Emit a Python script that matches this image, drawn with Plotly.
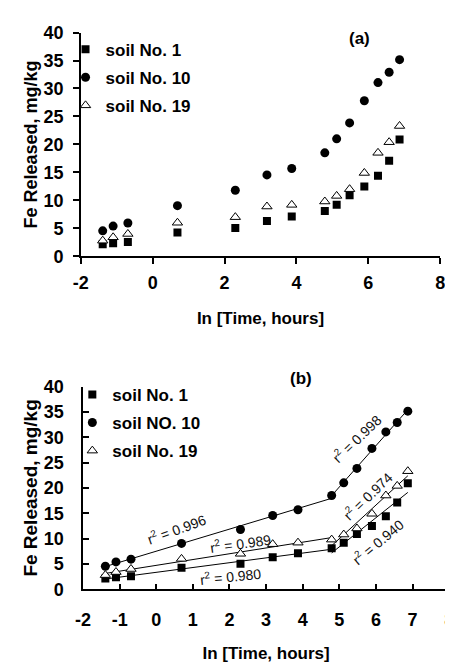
import numpy as np
import plotly.graph_objects as go

# ---------------- data ----------------
ln_time = [-1.39, -1.10, -0.69, 0.69, 2.30, 3.18, 3.87, 4.79, 5.12, 5.48, 5.89, 6.27, 6.58, 6.87]
soil1 = [2.15, 2.35, 2.55, 4.25, 5.05, 6.3, 7.1, 8.1, 9.2, 10.9, 12.5, 14.4, 17.1, 20.9]
soil10 = [4.55, 5.4, 5.95, 9.05, 11.8, 14.55, 15.7, 18.5, 21.0, 23.85, 27.8, 31.05, 32.9, 35.15]
soil19 = [2.8, 3.4, 4.0, 6.0, 7.0, 8.9, 9.2, 9.8, 10.8, 12.0, 14.9, 18.5, 20.4, 23.3]

names_a = ["soil No. 1", "soil No. 10", "soil No. 19"]
names_b = ["soil No. 1", "soil NO. 10", "soil No. 19"]

xticks_a = [-2, 0, 2, 4, 6, 8]
xticks_b = [-2, -1, 0, 1, 2, 3, 4, 5, 6, 7, 8]
yticks = [0, 5, 10, 15, 20, 25, 30, 35, 40]

break_index = 7  # both segments share the point at ln t = 4.79
# r2 labels: (x, y, angle, value) in panel (b) data coords
r2_pos = [
    (2.02, 2.55, -6, "0.980"),
    (0.54, 11.8, -20, "0.996"),
    (2.29, 9.05, -8, "0.989"),
    (6.03, 9.4, -40, "0.940"),
    (5.48, 29.8, -44, "0.998"),
    (5.76, 18.4, -44, "0.974"),
]

FONT = "Liberation Sans, Arial, sans-serif"
series = [soil1, soil10, soil19]
symbols = [
    dict(symbol="square", size=8, color="black", line=dict(color="black", width=0)),
    dict(symbol="circle", size=9, color="black", line=dict(color="black", width=0)),
    dict(symbol="triangle-up", size=9, color="white", line=dict(color="black", width=1)),
]

fig = go.Figure()

# ---------- panel (a) ----------
for i, ys in enumerate(series):
    fig.add_trace(go.Scatter(
        x=ln_time, y=ys, mode="markers", name=names_a[i], marker=symbols[i],
        xaxis="x", yaxis="y", legend="legend", legendgroup=f"a{i}",
    ))

# ---------- panel (b): regression segments ----------
x_arr = np.array(ln_time)
for ys in series:
    y_arr = np.array(ys)
    for seg in (slice(0, break_index + 1), slice(break_index, len(ln_time))):
        xs, yv = x_arr[seg], y_arr[seg]
        k, b = np.polyfit(xs, yv, 1)
        xe = np.array([xs[0], xs[-1]])
        fig.add_trace(go.Scatter(
            x=xe, y=k * xe + b, mode="lines", line=dict(color="black", width=1),
            xaxis="x2", yaxis="y2", showlegend=False, hoverinfo="skip",
        ))

for i, ys in enumerate(series):
    fig.add_trace(go.Scatter(
        x=ln_time, y=ys, mode="markers", name=names_b[i], marker=symbols[i],
        xaxis="x2", yaxis="y2", legend="legend2", legendgroup=f"b{i}",
    ))

for (xx, yy, ang, val) in r2_pos:
    fig.add_annotation(
        x=xx, y=yy, xref="x2", yref="y2", text=f"r<sup>2</sup> = {val}",
        showarrow=False, textangle=ang, font=dict(family=FONT, size=14, color="#111"),
    )

W, H = 453, 665
bold = dict(family=FONT, color="black", weight="bold")

axis_common = dict(
    showline=True, linecolor="black", linewidth=1.5, showgrid=False, zeroline=False,
    tickcolor="black", tickwidth=1.5, ticklen=6,
    tickfont=dict(size=18, **bold),
)


def lab(v):
    return str(v).replace("\u2212", "-")


fig.update_layout(
    width=W, height=H, paper_bgcolor="white", plot_bgcolor="white",
    margin=dict(l=0, r=0, t=0, b=0),
    showlegend=True,
    xaxis=dict(
        domain=[66.7 / W, 436.7 / W], range=[-2, 8], ticks="outside",
        tickmode="array", tickvals=xticks_a, ticktext=[lab(v) for v in xticks_a],
        anchor="y", ticklabelstandoff=3,
        title=dict(text="In [Time, hours]", font=dict(size=17, **bold), standoff=20),
        **axis_common,
    ),
    yaxis=dict(
        domain=[1 - 245.7 / H, 1 - 15 / H], range=[0, 40], ticks="outside",
        tickmode="array", tickvals=yticks, ticktext=[lab(v) for v in yticks],
        anchor="x", ticklabelstandoff=6,
        title=dict(text="Fe Released, mg/kg", font=dict(size=18, **bold), standoff=1),
        **axis_common,
    ),
    xaxis2=dict(
        domain=[69 / W, 446 / W], range=[-2, 8], ticks="inside",
        tickmode="array", tickvals=xticks_b, ticktext=[lab(v) for v in xticks_b],
        anchor="y2", ticklabelstandoff=13,
        title=dict(text="In [Time, hours]", font=dict(size=17, **bold), standoff=18),
        **axis_common,
    ),
    yaxis2=dict(
        domain=[1 - 589 / H, 1 - 380 / H], range=[0, 40], ticks="inside",
        tickmode="array", tickvals=yticks, ticktext=[lab(v) for v in yticks],
        anchor="x2", ticklabelstandoff=14,
        title=dict(text="Fe Released, mg/kg", font=dict(size=19, **bold), standoff=1),
        **axis_common,
    ),
    legend=dict(
        x=51 / W, y=1 - 14 / H, xanchor="left", yanchor="top",
        bgcolor="rgba(0,0,0,0)", font=dict(size=17, **bold),
        traceorder="grouped", tracegroupgap=3,
    ),
    legend2=dict(
        x=58 / W, y=1 - 370 / H, xanchor="left", yanchor="top",
        bgcolor="rgba(0,0,0,0)", font=dict(size=17, **bold),
        traceorder="grouped", tracegroupgap=3,
    ),
    annotations=list(fig.layout.annotations) + [
        dict(text="(a)", x=353.7 / W, y=1 - 21 / H, xref="paper", yref="paper",
             xanchor="center", yanchor="middle",
             showarrow=False, font=dict(size=17, **bold)),
        dict(text="(b)", x=293 / W, y=1 - 372 / H, xref="paper", yref="paper",
             xanchor="center", yanchor="middle",
             showarrow=False, font=dict(size=17, **bold)),
    ],
)

fig.write_html("out.html")
